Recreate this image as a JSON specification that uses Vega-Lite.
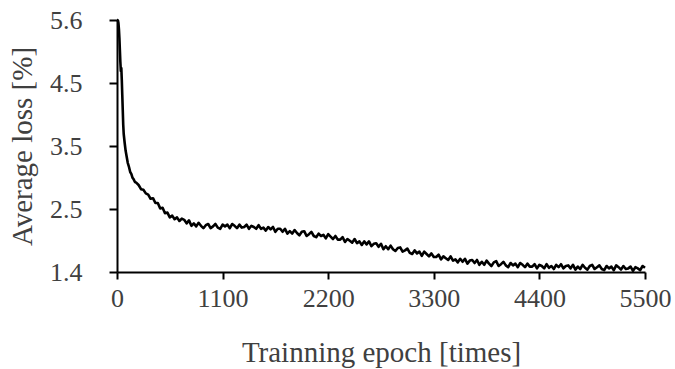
{
  "$schema": "https://vega.github.io/schema/vega-lite/v6.json",
  "width": 528,
  "height": 252,
  "autosize": "none",
  "padding": {"left": 117, "top": 20, "right": 30, "bottom": 97},
  "background": "white",
  "config": {"view": {"stroke": null}},
  "data": {"values": [
    {"epoch":0,"loss":5.6},{"epoch":5,"loss":5.6},{"epoch":10,"loss":5.59},{"epoch":15,"loss":5.55},{"epoch":20,"loss":5.45},{"epoch":25,"loss":5.3},{"epoch":30,"loss":5.1},{"epoch":35,"loss":4.9},{"epoch":40,"loss":4.75},{"epoch":45,"loss":4.8},{"epoch":50,"loss":4.6},{"epoch":55,"loss":4.35},{"epoch":60,"loss":4.1},{"epoch":65,"loss":3.85},{"epoch":70,"loss":3.7},{"epoch":80,"loss":3.55},{"epoch":90,"loss":3.42},{"epoch":100,"loss":3.33},{"epoch":112,"loss":3.22},{"epoch":125,"loss":3.15},{"epoch":137,"loss":3.07},{"epoch":150,"loss":3.03},{"epoch":162,"loss":2.97},{"epoch":175,"loss":2.94},{"epoch":187,"loss":2.9},{"epoch":200,"loss":2.89},{"epoch":225,"loss":2.85},{"epoch":250,"loss":2.78},{"epoch":275,"loss":2.77},{"epoch":300,"loss":2.71},{"epoch":325,"loss":2.69},{"epoch":350,"loss":2.62},{"epoch":375,"loss":2.63},{"epoch":400,"loss":2.55},{"epoch":425,"loss":2.55},{"epoch":450,"loss":2.46},{"epoch":475,"loss":2.47},{"epoch":500,"loss":2.38},{"epoch":525,"loss":2.39},{"epoch":550,"loss":2.31},{"epoch":575,"loss":2.34},{"epoch":600,"loss":2.28},{"epoch":625,"loss":2.31},{"epoch":650,"loss":2.25},{"epoch":675,"loss":2.29},
    {"epoch":700,"loss":2.27},{"epoch":725,"loss":2.21},{"epoch":750,"loss":2.26},{"epoch":775,"loss":2.17},{"epoch":800,"loss":2.21},{"epoch":825,"loss":2.16},{"epoch":850,"loss":2.22},{"epoch":875,"loss":2.17},{"epoch":900,"loss":2.13},{"epoch":925,"loss":2.18},{"epoch":950,"loss":2.2},{"epoch":975,"loss":2.13},{"epoch":1000,"loss":2.16},{"epoch":1025,"loss":2.2},{"epoch":1050,"loss":2.14},{"epoch":1075,"loss":2.12},{"epoch":1100,"loss":2.19},{"epoch":1125,"loss":2.16},{"epoch":1150,"loss":2.19},{"epoch":1175,"loss":2.13},{"epoch":1200,"loss":2.2},{"epoch":1225,"loss":2.17},{"epoch":1250,"loss":2.13},{"epoch":1275,"loss":2.19},{"epoch":1300,"loss":2.14},{"epoch":1325,"loss":2.15},{"epoch":1350,"loss":2.19},{"epoch":1375,"loss":2.12},{"epoch":1400,"loss":2.17},{"epoch":1425,"loss":2.15},{"epoch":1450,"loss":2.12},{"epoch":1475,"loss":2.18},{"epoch":1500,"loss":2.12},{"epoch":1525,"loss":2.14},{"epoch":1550,"loss":2.09},{"epoch":1575,"loss":2.15},{"epoch":1600,"loss":2.11},{"epoch":1625,"loss":2.15},{"epoch":1650,"loss":2.07},{"epoch":1675,"loss":2.12},
    {"epoch":1700,"loss":2.12},{"epoch":1725,"loss":2.07},{"epoch":1750,"loss":2.12},{"epoch":1775,"loss":2.04},{"epoch":1800,"loss":2.08},{"epoch":1825,"loss":2.04},{"epoch":1850,"loss":2.1},{"epoch":1875,"loss":2.05},{"epoch":1900,"loss":2.01},{"epoch":1925,"loss":2.07},{"epoch":1950,"loss":2.08},{"epoch":1975,"loss":2.0},{"epoch":2000,"loss":2.03},{"epoch":2025,"loss":2.07},{"epoch":2050,"loss":2.0},{"epoch":2075,"loss":1.98},{"epoch":2100,"loss":2.04},{"epoch":2125,"loss":2.0},{"epoch":2150,"loss":2.02},{"epoch":2175,"loss":1.96},{"epoch":2200,"loss":2.03},{"epoch":2225,"loss":1.99},{"epoch":2250,"loss":1.95},{"epoch":2275,"loss":2.0},{"epoch":2300,"loss":1.94},{"epoch":2325,"loss":1.94},{"epoch":2350,"loss":1.98},{"epoch":2375,"loss":1.9},{"epoch":2400,"loss":1.95},{"epoch":2425,"loss":1.92},{"epoch":2450,"loss":1.89},{"epoch":2475,"loss":1.95},{"epoch":2500,"loss":1.88},{"epoch":2525,"loss":1.91},{"epoch":2550,"loss":1.85},{"epoch":2575,"loss":1.91},{"epoch":2600,"loss":1.86},{"epoch":2625,"loss":1.91},{"epoch":2650,"loss":1.83},{"epoch":2675,"loss":1.87},
    {"epoch":2700,"loss":1.88},{"epoch":2725,"loss":1.82},{"epoch":2750,"loss":1.87},{"epoch":2775,"loss":1.78},{"epoch":2800,"loss":1.83},{"epoch":2825,"loss":1.78},{"epoch":2850,"loss":1.84},{"epoch":2875,"loss":1.78},{"epoch":2900,"loss":1.75},{"epoch":2925,"loss":1.8},{"epoch":2950,"loss":1.81},{"epoch":2975,"loss":1.74},{"epoch":3000,"loss":1.76},{"epoch":3025,"loss":1.79},{"epoch":3050,"loss":1.72},{"epoch":3075,"loss":1.7},{"epoch":3100,"loss":1.76},{"epoch":3125,"loss":1.71},{"epoch":3150,"loss":1.74},{"epoch":3175,"loss":1.67},{"epoch":3200,"loss":1.74},{"epoch":3225,"loss":1.7},{"epoch":3250,"loss":1.66},{"epoch":3275,"loss":1.71},{"epoch":3300,"loss":1.65},{"epoch":3325,"loss":1.65},{"epoch":3350,"loss":1.69},{"epoch":3375,"loss":1.61},{"epoch":3400,"loss":1.66},{"epoch":3425,"loss":1.63},{"epoch":3450,"loss":1.6},{"epoch":3475,"loss":1.66},{"epoch":3500,"loss":1.59},{"epoch":3525,"loss":1.61},{"epoch":3550,"loss":1.56},{"epoch":3575,"loss":1.62},{"epoch":3600,"loss":1.57},{"epoch":3625,"loss":1.62},{"epoch":3650,"loss":1.54},{"epoch":3675,"loss":1.59},
    {"epoch":3700,"loss":1.6},{"epoch":3725,"loss":1.55},{"epoch":3750,"loss":1.6},{"epoch":3775,"loss":1.52},{"epoch":3800,"loss":1.57},{"epoch":3825,"loss":1.52},{"epoch":3850,"loss":1.59},{"epoch":3875,"loss":1.54},{"epoch":3900,"loss":1.5},{"epoch":3925,"loss":1.56},{"epoch":3950,"loss":1.58},{"epoch":3975,"loss":1.5},{"epoch":4000,"loss":1.53},{"epoch":4025,"loss":1.57},{"epoch":4050,"loss":1.51},{"epoch":4075,"loss":1.48},{"epoch":4100,"loss":1.55},{"epoch":4125,"loss":1.51},{"epoch":4150,"loss":1.54},{"epoch":4175,"loss":1.48},{"epoch":4200,"loss":1.55},{"epoch":4225,"loss":1.52},{"epoch":4250,"loss":1.48},{"epoch":4275,"loss":1.54},{"epoch":4300,"loss":1.49},{"epoch":4325,"loss":1.49},{"epoch":4350,"loss":1.53},{"epoch":4375,"loss":1.46},{"epoch":4400,"loss":1.52},{"epoch":4425,"loss":1.5},{"epoch":4450,"loss":1.46},{"epoch":4475,"loss":1.53},{"epoch":4500,"loss":1.47},{"epoch":4525,"loss":1.5},{"epoch":4550,"loss":1.45},{"epoch":4575,"loss":1.52},{"epoch":4600,"loss":1.48},{"epoch":4625,"loss":1.53},{"epoch":4650,"loss":1.46},{"epoch":4675,"loss":1.5},
    {"epoch":4700,"loss":1.51},{"epoch":4725,"loss":1.46},{"epoch":4750,"loss":1.52},{"epoch":4775,"loss":1.44},{"epoch":4800,"loss":1.49},{"epoch":4825,"loss":1.45},{"epoch":4850,"loss":1.52},{"epoch":4875,"loss":1.47},{"epoch":4900,"loss":1.44},{"epoch":4925,"loss":1.5},{"epoch":4950,"loss":1.52},{"epoch":4975,"loss":1.45},{"epoch":5000,"loss":1.48},{"epoch":5025,"loss":1.51},{"epoch":5050,"loss":1.45},{"epoch":5075,"loss":1.43},{"epoch":5100,"loss":1.5},{"epoch":5125,"loss":1.46},{"epoch":5150,"loss":1.49},{"epoch":5175,"loss":1.43},{"epoch":5200,"loss":1.51},{"epoch":5225,"loss":1.48},{"epoch":5250,"loss":1.44},{"epoch":5275,"loss":1.5},{"epoch":5300,"loss":1.45},{"epoch":5325,"loss":1.46},{"epoch":5350,"loss":1.49},{"epoch":5375,"loss":1.42},{"epoch":5400,"loss":1.48},{"epoch":5425,"loss":1.46},{"epoch":5450,"loss":1.43},{"epoch":5475,"loss":1.5},{"epoch":5500,"loss":1.47}
  ]},
  "mark": {"type": "line", "color": "black", "strokeWidth": 2.6, "strokeJoin": "round"},
  "encoding": {
    "x": {
      "field": "epoch", "type": "quantitative",
      "scale": {"domain": [0, 5500], "nice": false, "zero": false},
      "axis": {
        "title": "Trainning epoch [times]",
        "values": [0, 1100, 2200, 3300, 4400, 5500],
        "format": "d",
        "grid": false,
        "domainColor": "black", "domainWidth": 2,
        "tickColor": "black", "tickWidth": 2, "tickSize": 7,
        "labelFont": "Liberation Serif", "labelFontSize": 26, "labelColor": "#404040",
        "labelPadding": 6, "labelFlush": false,
        "titleFont": "Liberation Serif", "titleFontSize": 29, "titleFontWeight": "normal", "titleColor": "#404040",
        "titleX": 264, "titleY": 80, "titleBaseline": "middle", "titleAlign": "center"
      }
    },
    "y": {
      "field": "loss", "type": "quantitative",
      "scale": {"domain": [1.4, 5.6], "nice": false, "zero": false},
      "axis": {
        "title": "Average loss [%]",
        "values": [1.4, 2.45, 3.5, 4.55, 5.6],
        "labelExpr": "datum.value < 2 ? '1.4' : datum.value < 3 ? '2.5' : datum.value < 4 ? '3.5' : datum.value < 5 ? '4.5' : '5.6'",
        "grid": false,
        "domainColor": "black", "domainWidth": 2,
        "tickColor": "black", "tickWidth": 2, "tickSize": 8,
        "labelFont": "Liberation Serif", "labelFontSize": 26, "labelColor": "#404040",
        "labelPadding": 27, "labelFlush": false, "labelBaseline": "middle",
        "titleFont": "Liberation Serif", "titleFontSize": 29, "titleFontWeight": "normal", "titleColor": "#404040",
        "titleX": -95, "titleY": 126, "titleAngle": -90, "titleBaseline": "middle", "titleAlign": "center"
      }
    }
  }
}
